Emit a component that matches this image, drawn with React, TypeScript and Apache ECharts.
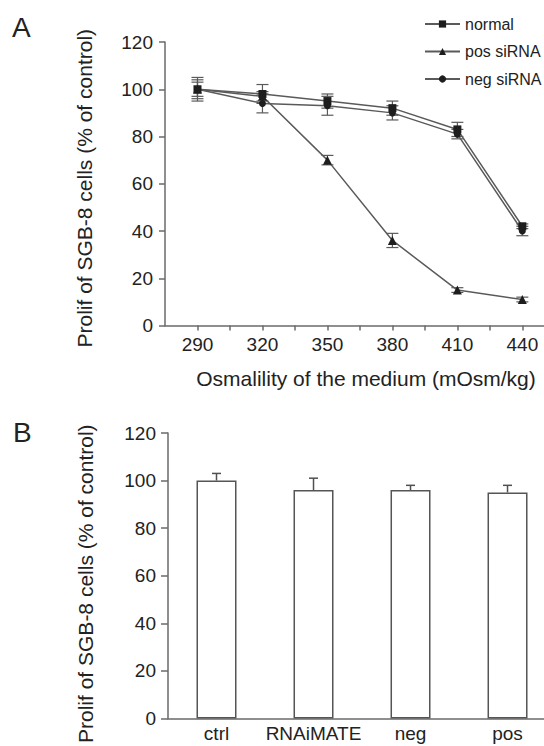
import React, { useEffect, useRef } from 'react';
import * as echarts from 'echarts';

// Panel A data
const osmolality = [290, 320, 350, 380, 410, 440];
const normalMean = [100, 98, 95, 92, 83, 42];
const normalErr = [5, 4, 3, 3, 3, 1];
const posMean = [100, 97, 70, 36, 15, 11];
const posErr = [3, 2, 2, 3, 1, 1];
const negMean = [100, 94, 93, 90, 81, 40];
const negErr = [4, 4, 4, 3, 2, 2];
const xTickValues = [290, 305, 320, 335, 350, 365, 380, 395, 410, 425, 440];
const xLabelValues = [290, 320, 350, 380, 410, 440];

// Panel B data
const groups = ['ctrl', 'RNAiMATE', 'neg', 'pos'];
const groupMean = [100, 96, 96, 95];
const groupErr = [3, 5, 2, 3];
const groupPositions = [0, 1, 2, 3];

const FONT = 'Liberation Sans, Arial, Helvetica, sans-serif';
const TEXT = '#222';
const AXIS = '#6a6a6a';
const LINE = '#5a5a5a';
const MARK = '#1e1e1e';

export default function App() {
  const ref = useRef<HTMLDivElement>(null);

  useEffect(() => {
    const chart = echarts.init(ref.current!, null, { renderer: 'svg' });

    const errData = (mean: number[], err: number[]) =>
      osmolality.map((x, i) => [x, mean[i] - err[i], mean[i] + err[i]]);

    const errRenderA = (params: any, api: any) => {
      const x = api.value(0);
      const lo = api.coord([x, api.value(1)]);
      const hi = api.coord([x, api.value(2)]);
      const half = 6;
      const style = { stroke: LINE, lineWidth: 1.2 };
      return {
        type: 'group',
        children: [
          { type: 'line', shape: { x1: lo[0], y1: lo[1], x2: hi[0], y2: hi[1] }, style },
          { type: 'line', shape: { x1: lo[0] - half, y1: lo[1], x2: lo[0] + half, y2: lo[1] }, style },
          { type: 'line', shape: { x1: hi[0] - half, y1: hi[1], x2: hi[0] + half, y2: hi[1] }, style },
        ],
      };
    };

    const errRenderB = (params: any, api: any) => {
      const x = api.value(0);
      const lo = api.coord([x, api.value(1)]);
      const hi = api.coord([x, api.value(2)]);
      const half = 4.5;
      const style = { stroke: '#505050', lineWidth: 1.5 };
      return {
        type: 'group',
        children: [
          { type: 'line', shape: { x1: lo[0], y1: lo[1], x2: hi[0], y2: hi[1] }, style },
          { type: 'line', shape: { x1: hi[0] - half, y1: hi[1], x2: hi[0] + half, y2: hi[1] }, style },
        ],
      };
    };

    const lineSeries = (name: string, mean: number[], symbol: string, size: number) => ({
      name,
      type: 'line',
      xAxisIndex: 0,
      yAxisIndex: 0,
      data: osmolality.map((x, i) => [x, mean[i]]),
      symbol,
      symbolSize: size,
      showAllSymbol: true,
      lineStyle: { color: LINE, width: 1.5 },
      itemStyle: { color: MARK, borderWidth: 0 },
      z: 3,
    });

    const errSeries = (mean: number[], err: number[]) => ({
      type: 'custom',
      xAxisIndex: 0,
      yAxisIndex: 0,
      data: errData(mean, err),
      renderItem: errRenderA,
      encode: { x: 0, y: [1, 2] },
      z: 2,
      silent: true,
    });

    const axisLabelStyle = { fontSize: 19, color: TEXT, fontFamily: FONT };
    const nameStyle = { fontSize: 21, color: TEXT, fontFamily: FONT };

    const option: any = {
      animation: false,
      backgroundColor: '#fff',
      textStyle: { fontFamily: FONT },
      legend: {
        data: ['normal', 'pos siRNA', 'neg siRNA'],
        orient: 'vertical',
        left: 419,
        top: 11,
        itemWidth: 35,
        itemHeight: 9,
        itemGap: 11.5,
        textStyle: { fontSize: 16, color: TEXT, fontFamily: FONT },
      },
      grid: [
        { left: 165, top: 42, right: 0, bottom: 420.5 },
        { left: 168, top: 433, right: 0, bottom: 25 },
      ],
      xAxis: [
        {
          type: 'value',
          gridIndex: 0,
          min: 275,
          max: 450,
          splitLine: { show: false },
          axisLine: { show: true, onZero: false, lineStyle: { color: AXIS, width: 1.5 } },
          axisTick: { show: true, customValues: xTickValues, length: 5, lineStyle: { color: AXIS, width: 1.5 } },
          axisLabel: { customValues: xLabelValues, margin: 9, ...axisLabelStyle },
          name: 'Osmalility of the medium (mOsm/kg)',
          nameLocation: 'middle',
          nameGap: 42,
          nameTextStyle: { ...nameStyle, padding: [0, 0, 0, 23] },
        },
        {
          type: 'value',
          gridIndex: 1,
          min: -0.5,
          max: 3.376,
          splitLine: { show: false },
          axisLine: { show: true, onZero: false, lineStyle: { color: AXIS, width: 1.5 } },
          axisTick: { show: false },
          axisLabel: {
            customValues: groupPositions,
            formatter: (v: number) => groups[Math.round(v)] ?? '',
            margin: 6,
            ...axisLabelStyle,
          },
        },
      ],
      yAxis: [
        {
          type: 'value',
          gridIndex: 0,
          min: 0,
          max: 120,
          interval: 20,
          splitLine: { show: false },
          axisLine: { show: true, onZero: false, lineStyle: { color: AXIS, width: 1.5 } },
          axisTick: { show: true, length: 6, lineStyle: { color: AXIS, width: 1.5 } },
          axisLabel: { margin: 12, ...axisLabelStyle },
          name: 'Prolif of SGB-8 cells (% of control)',
          nameLocation: 'middle',
          nameGap: 70,
          nameTextStyle: { ...nameStyle, padding: [0, 9, 0, 0] },
        },
        {
          type: 'value',
          gridIndex: 1,
          min: 0,
          max: 120,
          interval: 20,
          splitLine: { show: false },
          axisLine: { show: true, onZero: false, lineStyle: { color: AXIS, width: 1.5 } },
          axisTick: { show: true, length: 7, lineStyle: { color: AXIS, width: 1.5 } },
          axisLabel: { margin: 12, ...axisLabelStyle },
          name: 'Prolif of SGB-8 cells (% of control)',
          nameLocation: 'middle',
          nameGap: 72,
          nameTextStyle: { ...nameStyle, padding: [0, 16, 0, 0] },
        },
      ],
      graphic: [
        { type: 'text', left: 12, top: 13, style: { text: 'A', fontSize: 28, fill: TEXT, fontFamily: FONT } },
        { type: 'text', left: 13, top: 418, style: { text: 'B', fontSize: 28, fill: TEXT, fontFamily: FONT } },
      ],
      series: [
        errSeries(normalMean, normalErr),
        errSeries(posMean, posErr),
        errSeries(negMean, negErr),
        lineSeries('normal', normalMean, 'rect', 8),
        lineSeries('pos siRNA', posMean, 'triangle', 9),
        lineSeries('neg siRNA', negMean, 'circle', 7),
        {
          type: 'bar',
          xAxisIndex: 1,
          yAxisIndex: 1,
          data: groupPositions.map((p, i) => [p, groupMean[i]]),
          barWidth: 40,
          itemStyle: { color: '#fff', borderColor: '#555', borderWidth: 1.5 },
          z: 2,
        },
        {
          type: 'custom',
          xAxisIndex: 1,
          yAxisIndex: 1,
          data: groupPositions.map((p, i) => [p, groupMean[i], groupMean[i] + groupErr[i]]),
          renderItem: errRenderB,
          encode: { x: 0, y: [1, 2] },
          z: 3,
          silent: true,
        },
      ],
    };

    chart.setOption(option);
    return () => chart.dispose();
  }, []);

  return (
    <div
      ref={ref}
      style={{ position: 'fixed', left: 0, top: 0, width: 544, height: 746, background: '#fff' }}
    />
  );
}
